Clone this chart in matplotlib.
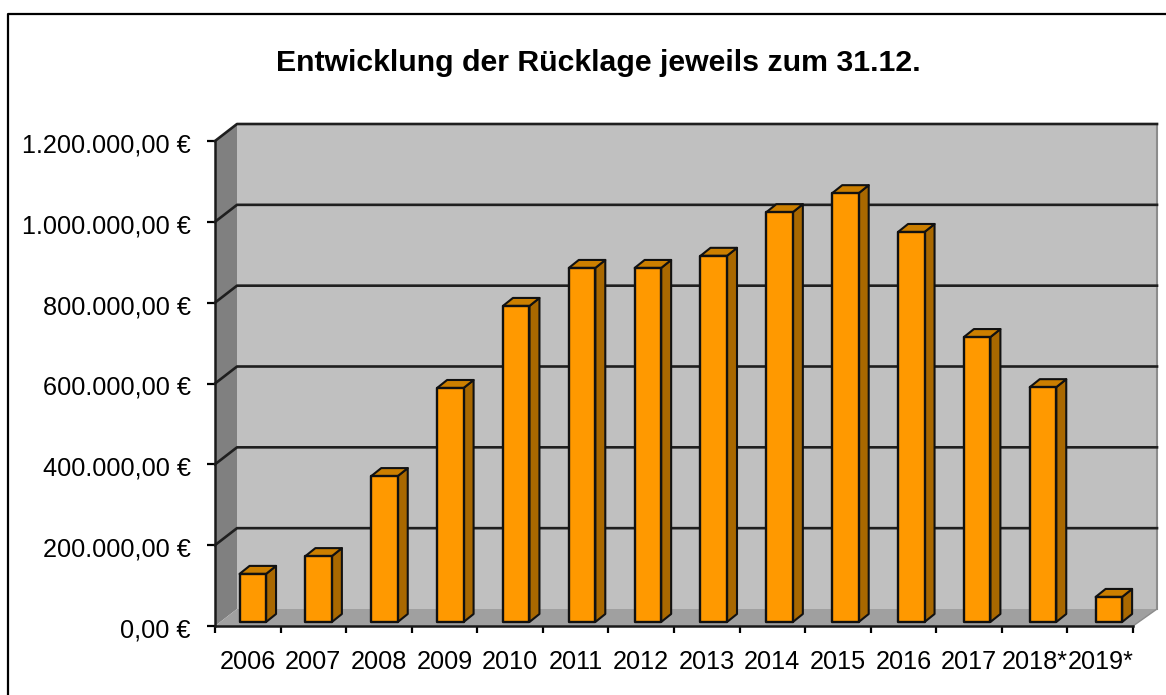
import matplotlib
matplotlib.use("Agg")
import matplotlib.pyplot as plt
from matplotlib.lines import Line2D
from matplotlib.patches import Polygon
from matplotlib.transforms import ScaledTranslation

plt.rcParams['font.family'] = ['Liberation Sans', 'DejaVu Sans']

years = ["2006", "2007", "2008", "2009", "2010", "2011", "2012", "2013",
         "2014", "2015", "2016", "2017", "2018*", "2019*"]
values = [119000, 163000, 361000, 579000, 782000, 876000, 876000, 906000,
          1014000, 1061000, 965000, 705000, 581000, 62000]
y_ticks = [0, 200000, 400000, 600000, 800000, 1000000, 1200000]
y_labels = ["0,00 €", "200.000,00 €", "400.000,00 €", "600.000,00 €",
            "800.000,00 €", "1.000.000,00 €", "1.200.000,00 €"]

W, H = 1166, 695
left, right, bottom, top = 215, 1133, 626, 141
ymax = 1200000

fig = plt.figure(figsize=(W / 100, H / 100), dpi=100, facecolor="white")
ax = fig.add_axes([left / W, (H - bottom) / H, (right - left) / W, (bottom - top) / H])
ax.set_xlim(0, len(years))
ax.set_ylim(0, ymax)


# pixel offsets to data units
def px_x(p):
    return p * len(years) / (right - left)


def px_y(p):
    return p * ymax / (bottom - top)


def poly(pts, color, z, edge="none", lw=0):
    ax.add_patch(Polygon(pts, closed=True, facecolor=color, edgecolor=edge,
                         linewidth=lw, zorder=z, clip_on=False, joinstyle="round"))


# walls
wx, wy = px_x(22), px_y(17)
n = len(years)
wr = n + px_x(24)
poly([(0, 0), (wx, wy), (wx, ymax + wy), (0, ymax)], "#808080", 1)
poly([(wx, wy), (wr, wy), (wr, ymax + wy), (wx, ymax + wy)], "#C0C0C0", 1)
poly([(0, 0), (n, 0), (wr, wy), (wx, wy)], "#A0A0A0", 1)
ax.plot([wr, wr], [wy, ymax + wy], color="#8c8c8c", lw=1.5, zorder=1.5, clip_on=False)
ax.plot([n, wr], [0, wy], color="#8c8c8c", lw=1, zorder=1.5, clip_on=False)

# gridlines
for t in y_ticks[1:]:
    ax.plot([0, wx, wr], [t, t + wy, t + wy], color="#1f1f1f", lw=1.9, zorder=2, clip_on=False)

# bars
base = px_y(4)
bw = px_x(26.5)
ddx, ddy = px_x(10), px_y(8)
for i, v in enumerate(values):
    x0 = i + 0.5 + px_x(5 + 0.28 * i) - bw / 2
    x1 = x0 + bw
    y0, y1 = base, base + v
    poly([(x1, y0), (x1 + ddx, y0 + ddy), (x1 + ddx, y1 + ddy), (x1, y1)], "#A96800", 3, "#111111", 1.5)
    poly([(x0, y1), (x1, y1), (x1 + ddx, y1 + ddy), (x0 + ddx, y1 + ddy)], "#CC7F00", 3, "#111111", 1.5)
    poly([(x0, y0), (x1, y0), (x1, y1), (x0, y1)], "#FF9900", 3, "#111111", 1.7)

# axes
for s in ["top", "right"]:
    ax.spines[s].set_visible(False)
for s in ["left", "bottom"]:
    ax.spines[s].set_linewidth(1.8)
    ax.spines[s].set_color("#1a1a1a")
    ax.spines[s].set_zorder(4)
ax.set_yticks(y_ticks)
ax.set_yticklabels(y_labels, fontsize=18.2)
ax.set_xticks(range(n + 1))
ax.set_xticklabels([])
ax.set_xticks([i + 0.5 for i in range(n)], minor=True)
ax.set_xticklabels(years, minor=True, fontsize=18.2)
ax.tick_params(axis="y", length=5.5, width=1.6, pad=12)
ax.tick_params(axis="x", which="major", length=5, width=1.6)
ax.tick_params(axis="x", which="minor", length=0, pad=17)

# labels sit a little lower than the ticks
shift = ScaledTranslation(0, -2 / 100, fig.dpi_scale_trans)
for lab in ax.get_yticklabels():
    lab.set_transform(lab.get_transform() + shift)

fig.text(598 / W, (H - 63) / H, "Entwicklung der Rücklage jeweils zum 31.12.",
         fontsize=21.8, fontweight="bold", ha="center", va="center")

# chart area border, only left and top are in the picture
fig.add_artist(Line2D([8 / W, 8 / W, 1], [0, (H - 14) / H, (H - 14) / H], color="black", lw=1.6))

fig.savefig("out.png", dpi=100, facecolor="white")
